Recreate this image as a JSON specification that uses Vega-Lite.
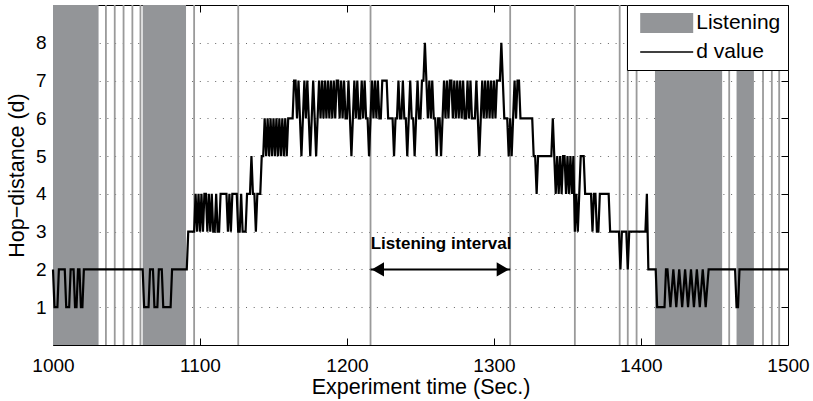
{
  "$schema": "https://vega.github.io/schema/vega-lite/v6.json",
  "width": 735,
  "height": 340,
  "autosize": "none",
  "padding": {"left": 53, "top": 5, "right": 25, "bottom": 56},
  "background": "white",
  "config": {
    "view": {"stroke": "black", "strokeWidth": 1},
    "font": "Liberation Sans",
    "axis": {"labelFont": "Liberation Sans", "titleFont": "Liberation Sans", "labelColor": "black", "titleColor": "black", "tickColor": "black", "titleFontWeight": "normal", "labelFlush": false}
  },
  "datasets": {
    "listening": [
      {"start": 1000, "end": 1031, "kind": "Listening"},
      {"start": 1061, "end": 1090.5, "kind": "Listening"},
      {"start": 1409.5, "end": 1455.2, "kind": "Listening"},
      {"start": 1465, "end": 1476.8, "kind": "Listening"}
    ],
    "events": [
      {"t": 1036}, {"t": 1042}, {"t": 1048}, {"t": 1054}, {"t": 1059.5}, {"t": 1096}, {"t": 1126}, {"t": 1216}, {"t": 1311}, {"t": 1355}, {"t": 1385.5}, {"t": 1391}, {"t": 1397}, {"t": 1460}, {"t": 1483}, {"t": 1489}, {"t": 1494}
    ],
    "dvalue": [
      {"t":1000,"d":2},{"t":1001,"d":1},{"t":1003,"d":1},{"t":1004,"d":2},{"t":1008,"d":2},{"t":1009,"d":1},{"t":1011,"d":1},{"t":1012,"d":2},{"t":1014,"d":2},{"t":1015,"d":1},{"t":1016,"d":1},{"t":1017,"d":2},{"t":1018,"d":2},{"t":1019,"d":1},{"t":1020,"d":1},{"t":1021,"d":2},{"t":1061,"d":2},{"t":1062,"d":1},{"t":1065,"d":1},{"t":1066,"d":2},{"t":1068,"d":2},{"t":1069,"d":1},{"t":1071,"d":1},{"t":1072,"d":2},{"t":1074,"d":2},{"t":1075,"d":1},{"t":1080,"d":1},{"t":1081,"d":2},{"t":1091,"d":2},{"t":1092,"d":3},{"t":1096,"d":3},
      {"t":1097,"d":4},{"t":1098,"d":3},{"t":1099,"d":4},{"t":1100,"d":3},{"t":1101,"d":4},{"t":1102,"d":3},{"t":1103,"d":4},{"t":1104,"d":4},{"t":1105,"d":3},{"t":1106,"d":4},{"t":1107,"d":3},{"t":1108,"d":4},{"t":1109,"d":3},{"t":1110,"d":3},{"t":1111,"d":4},{"t":1112,"d":3},{"t":1113,"d":3},{"t":1114,"d":4},{"t":1118,"d":4},{"t":1119,"d":3},{"t":1120,"d":4},{"t":1121,"d":3},{"t":1122,"d":4},{"t":1125,"d":4},{"t":1126,"d":3},{"t":1127,"d":3},{"t":1128,"d":4},{"t":1129,"d":3},{"t":1131,"d":3},{"t":1132,"d":4},{"t":1134,"d":4},{"t":1135,"d":5},{"t":1136,"d":4},{"t":1137,"d":4},{"t":1138,"d":3},{"t":1139,"d":4},{"t":1141,"d":4},{"t":1142,"d":5},{"t":1143,"d":5},
      {"t":1144,"d":6},{"t":1145,"d":5},{"t":1146,"d":6},{"t":1147,"d":5},{"t":1148,"d":6},{"t":1149,"d":5},{"t":1150,"d":6},{"t":1151,"d":5},{"t":1152,"d":6},{"t":1153,"d":5},{"t":1154,"d":6},{"t":1155,"d":5},{"t":1156,"d":6},{"t":1157,"d":5},{"t":1158,"d":6},{"t":1159,"d":5},{"t":1160,"d":6},{"t":1163,"d":6},
      {"t":1164,"d":7},{"t":1165,"d":7},{"t":1166,"d":6},{"t":1167,"d":7},{"t":1168,"d":6},{"t":1169,"d":5},{"t":1170,"d":6},{"t":1171,"d":7},{"t":1172,"d":6},{"t":1173,"d":7},{"t":1174,"d":6},{"t":1175,"d":5},{"t":1176,"d":6},{"t":1177,"d":7},{"t":1178,"d":6},{"t":1179,"d":5},{"t":1180,"d":6},{"t":1181,"d":7},{"t":1182,"d":6},{"t":1183,"d":7},{"t":1184,"d":6},{"t":1185,"d":7},{"t":1186,"d":6},{"t":1187,"d":7},{"t":1188,"d":6},{"t":1189,"d":7},{"t":1190,"d":6},{"t":1191,"d":7},{"t":1192,"d":6},{"t":1193,"d":7},{"t":1194,"d":7},{"t":1195,"d":6},{"t":1196,"d":7},{"t":1197,"d":6},{"t":1198,"d":7},{"t":1199,"d":6},{"t":1200,"d":6},
      {"t":1201,"d":7},{"t":1202,"d":6},{"t":1203,"d":5},{"t":1204,"d":6},{"t":1205,"d":7},{"t":1206,"d":6},{"t":1207,"d":7},{"t":1208,"d":6},{"t":1209,"d":6},{"t":1210,"d":7},{"t":1211,"d":6},{"t":1212,"d":7},{"t":1213,"d":6},{"t":1214,"d":6},{"t":1215,"d":5},{"t":1216,"d":6},{"t":1217,"d":7},{"t":1218,"d":6},{"t":1219,"d":7},{"t":1220,"d":6},{"t":1221,"d":7},{"t":1222,"d":6},{"t":1223,"d":6},{"t":1224,"d":7},{"t":1227,"d":7},{"t":1228,"d":6},{"t":1231,"d":6},{"t":1232,"d":5},{"t":1233,"d":6},{"t":1234,"d":6},{"t":1235,"d":7},{"t":1236,"d":6},{"t":1237,"d":6},{"t":1238,"d":7},{"t":1239,"d":6},{"t":1240,"d":6},{"t":1241,"d":5},{"t":1242,"d":6},{"t":1243,"d":7},{"t":1244,"d":6},{"t":1245,"d":6},{"t":1246,"d":5},{"t":1247,"d":6},{"t":1248,"d":7},{"t":1249,"d":6},{"t":1250,"d":6},{"t":1251,"d":7},{"t":1252,"d":7},{"t":1253,"d":8},{"t":1254,"d":7},{"t":1255,"d":6},{"t":1256,"d":7},{"t":1257,"d":6},{"t":1258,"d":7},{"t":1259,"d":6},{"t":1260,"d":6},
      {"t":1261,"d":5},{"t":1262,"d":6},{"t":1263,"d":6},{"t":1264,"d":5},{"t":1265,"d":6},{"t":1266,"d":7},{"t":1267,"d":6},{"t":1268,"d":7},{"t":1269,"d":6},{"t":1270,"d":7},{"t":1271,"d":7},{"t":1272,"d":6},{"t":1273,"d":7},{"t":1274,"d":6},{"t":1275,"d":7},{"t":1276,"d":6},{"t":1277,"d":7},{"t":1278,"d":6},{"t":1279,"d":7},{"t":1280,"d":6},{"t":1281,"d":6},{"t":1282,"d":7},{"t":1283,"d":6},{"t":1284,"d":7},{"t":1285,"d":6},{"t":1287,"d":6},{"t":1288,"d":7},{"t":1289,"d":6},{"t":1290,"d":5},{"t":1291,"d":6},{"t":1292,"d":7},{"t":1293,"d":6},{"t":1294,"d":7},{"t":1295,"d":6},{"t":1296,"d":7},{"t":1297,"d":6},{"t":1298,"d":7},{"t":1299,"d":6},{"t":1300,"d":7},{"t":1301,"d":6},{"t":1302,"d":7},{"t":1304,"d":7},{"t":1305,"d":8},{"t":1306,"d":7},{"t":1307,"d":6},{"t":1309,"d":6},{"t":1310,"d":5},{"t":1311,"d":6},{"t":1312,"d":5},{"t":1313,"d":6},{"t":1314,"d":7},{"t":1315,"d":6},{"t":1316,"d":7},{"t":1317,"d":7},{"t":1318,"d":6},{"t":1326,"d":6},{"t":1327,"d":5},{"t":1328,"d":5},{"t":1329,"d":4},{"t":1330,"d":5},{"t":1339,"d":5},{"t":1340,"d":6},
      {"t":1341,"d":5},{"t":1342,"d":4},{"t":1343,"d":5},{"t":1344,"d":4},{"t":1345,"d":5},{"t":1346,"d":4},{"t":1347,"d":5},{"t":1348,"d":5},{"t":1349,"d":4},{"t":1350,"d":5},{"t":1351,"d":4},{"t":1352,"d":5},{"t":1353,"d":4},{"t":1354,"d":5},{"t":1355,"d":3},{"t":1356,"d":4},{"t":1357,"d":3},{"t":1358,"d":4},{"t":1359,"d":5},{"t":1361,"d":5},{"t":1362,"d":4},{"t":1366,"d":4},{"t":1367,"d":3},{"t":1368,"d":4},{"t":1369,"d":4},{"t":1370,"d":3},{"t":1371,"d":3},{"t":1372,"d":4},{"t":1378,"d":4},{"t":1379,"d":3},{"t":1385,"d":3},{"t":1386,"d":2},{"t":1387,"d":3},{"t":1390,"d":3},{"t":1391,"d":2},{"t":1392,"d":3},{"t":1403,"d":3},{"t":1404,"d":4},{"t":1405,"d":2},{"t":1410,"d":2},
      {"t":1411,"d":1},{"t":1416,"d":1},{"t":1417,"d":2},{"t":1418,"d":2},{"t":1420,"d":1},{"t":1422,"d":2},{"t":1424,"d":1},{"t":1426,"d":2},{"t":1428,"d":1},{"t":1430,"d":2},{"t":1432,"d":1},{"t":1434,"d":2},{"t":1436,"d":1},{"t":1438,"d":2},{"t":1440,"d":1},{"t":1442,"d":2},{"t":1444,"d":1},{"t":1446,"d":2},{"t":1464,"d":2},{"t":1465,"d":1},{"t":1466,"d":1},{"t":1467,"d":2},{"t":1500,"d":2}
    ],
    "arrow": [{"from": 1216, "to": 1311, "level": 2}],
    "heads": [{"t": 1221, "level": 2, "dir": "left"}, {"t": 1306, "level": 2, "dir": "right"}],
    "note": [{"t": 1264, "y": 2.55, "label": "Listening interval"}]
  },
  "layer": [
    {
      "data": {"name": "listening"},
      "mark": {"type": "rect"},
      "encoding": {
        "x": {"field": "start", "type": "quantitative", "scale": {"domain": [1000, 1500], "nice": false, "zero": false},
          "axis": {"orient": "bottom", "values": [1000, 1100, 1200, 1300, 1400, 1500], "tickSize": -7, "labelPadding": 18, "labelFontSize": 19, "labelFlush": false, "title": "Experiment time (Sec.)", "titleFontSize": 21.5, "titlePadding": 1, "domain": false, "grid": false, "format": "d"}},
        "x2": {"field": "end"},
        "color": {"field": "kind", "type": "nominal", "scale": {"domain": ["Listening", "d value"], "range": ["#939598", "#000000"]},
          "legend": {"orient": "top-right", "offset": 0, "title": null, "strokeColor": "black", "fillColor": "white", "padding": 7.5, "cornerRadius": 0, "labelFontSize": 21, "labelFont": "Liberation Sans", "labelColor": "black", "symbolSize": 256, "rowPadding": 4, "symbolOffset": 21.7, "labelOffset": 19,
            "encode": {"symbols": {"update": {
              "shape": {"signal": "datum.value === 'Listening' ? 'M-3.3125,-1.25H3.3125V1.25H-3.3125Z' : 'M-3.3125,0H3.3125'"},
              "fill": {"signal": "datum.value === 'Listening' ? '#939598' : 'transparent'"},
              "stroke": {"signal": "datum.value === 'Listening' ? 'transparent' : 'black'"},
              "strokeWidth": {"value": 1.6},
              "opacity": {"value": 1}
            }}}}}
      }
    },
    {
      "data": {"name": "events"},
      "mark": {"type": "rule", "color": "#9a9a9a", "strokeWidth": 1.8},
      "encoding": {
        "x": {"field": "t", "type": "quantitative", "scale": {"domain": [1000, 1500], "nice": false, "zero": false}, "axis": null}
      }
    },
    {
      "data": {"name": "dvalue"},
      "mark": {"type": "line", "color": "black", "strokeWidth": 2.2, "strokeJoin": "miter"},
      "encoding": {
        "x": {"field": "t", "type": "quantitative", "scale": {"domain": [1000, 1500], "nice": false, "zero": false}, "axis": null},
        "y": {"field": "d", "type": "quantitative", "scale": {"domain": [0, 9], "nice": false, "zero": false},
          "axis": {"orient": "left", "values": [1, 2, 3, 4, 5, 6, 7, 8], "tickSize": -7, "labelPadding": 14, "labelFontSize": 19, "labelFlush": false, "title": "Hop−distance (d)", "titleFontSize": 21.5, "titlePadding": 7, "domain": false, "grid": true, "gridDash": [1, 6.7], "gridColor": "#666", "gridWidth": 1}}
      }
    },
    {
      "data": {"name": "arrow"},
      "mark": {"type": "rule", "color": "black", "strokeWidth": 2},
      "encoding": {
        "x": {"field": "from", "type": "quantitative", "scale": {"domain": [1000, 1500], "nice": false, "zero": false}, "axis": null},
        "x2": {"field": "to"},
        "y": {"field": "level", "type": "quantitative", "scale": {"domain": [0, 9], "nice": false, "zero": false}, "axis": null}
      }
    },
    {
      "data": {"name": "heads"},
      "mark": {"type": "point", "filled": true, "opacity": 1, "color": "black", "size": 200},
      "encoding": {
        "x": {"field": "t", "type": "quantitative", "scale": {"domain": [1000, 1500], "nice": false, "zero": false}, "axis": null},
        "y": {"field": "level", "type": "quantitative", "scale": {"domain": [0, 9], "nice": false, "zero": false}, "axis": null},
        "shape": {"field": "dir", "type": "nominal", "scale": {"domain": ["left", "right"], "range": ["triangle-left", "triangle-right"]}, "legend": null}
      }
    },
    {
      "data": {"name": "note"},
      "mark": {"type": "text", "font": "Liberation Sans", "fontWeight": "bold", "fontSize": 17, "align": "center", "baseline": "alphabetic", "color": "black"},
      "encoding": {
        "x": {"field": "t", "type": "quantitative", "scale": {"domain": [1000, 1500], "nice": false, "zero": false},
          "axis": {"orient": "top", "values": [1000, 1100, 1200, 1300, 1400, 1500], "tickSize": -7, "labels": false, "title": null, "domain": false, "grid": false}},
        "y": {"field": "y", "type": "quantitative", "scale": {"domain": [0, 9], "nice": false, "zero": false},
          "axis": {"orient": "right", "values": [1, 2, 3, 4, 5, 6, 7, 8], "tickSize": -7, "labels": false, "title": null, "domain": false, "grid": false}},
        "text": {"field": "label", "type": "nominal"}
      }
    }
  ],
  "resolve": {"axis": {"x": "independent", "y": "independent"}}
}
